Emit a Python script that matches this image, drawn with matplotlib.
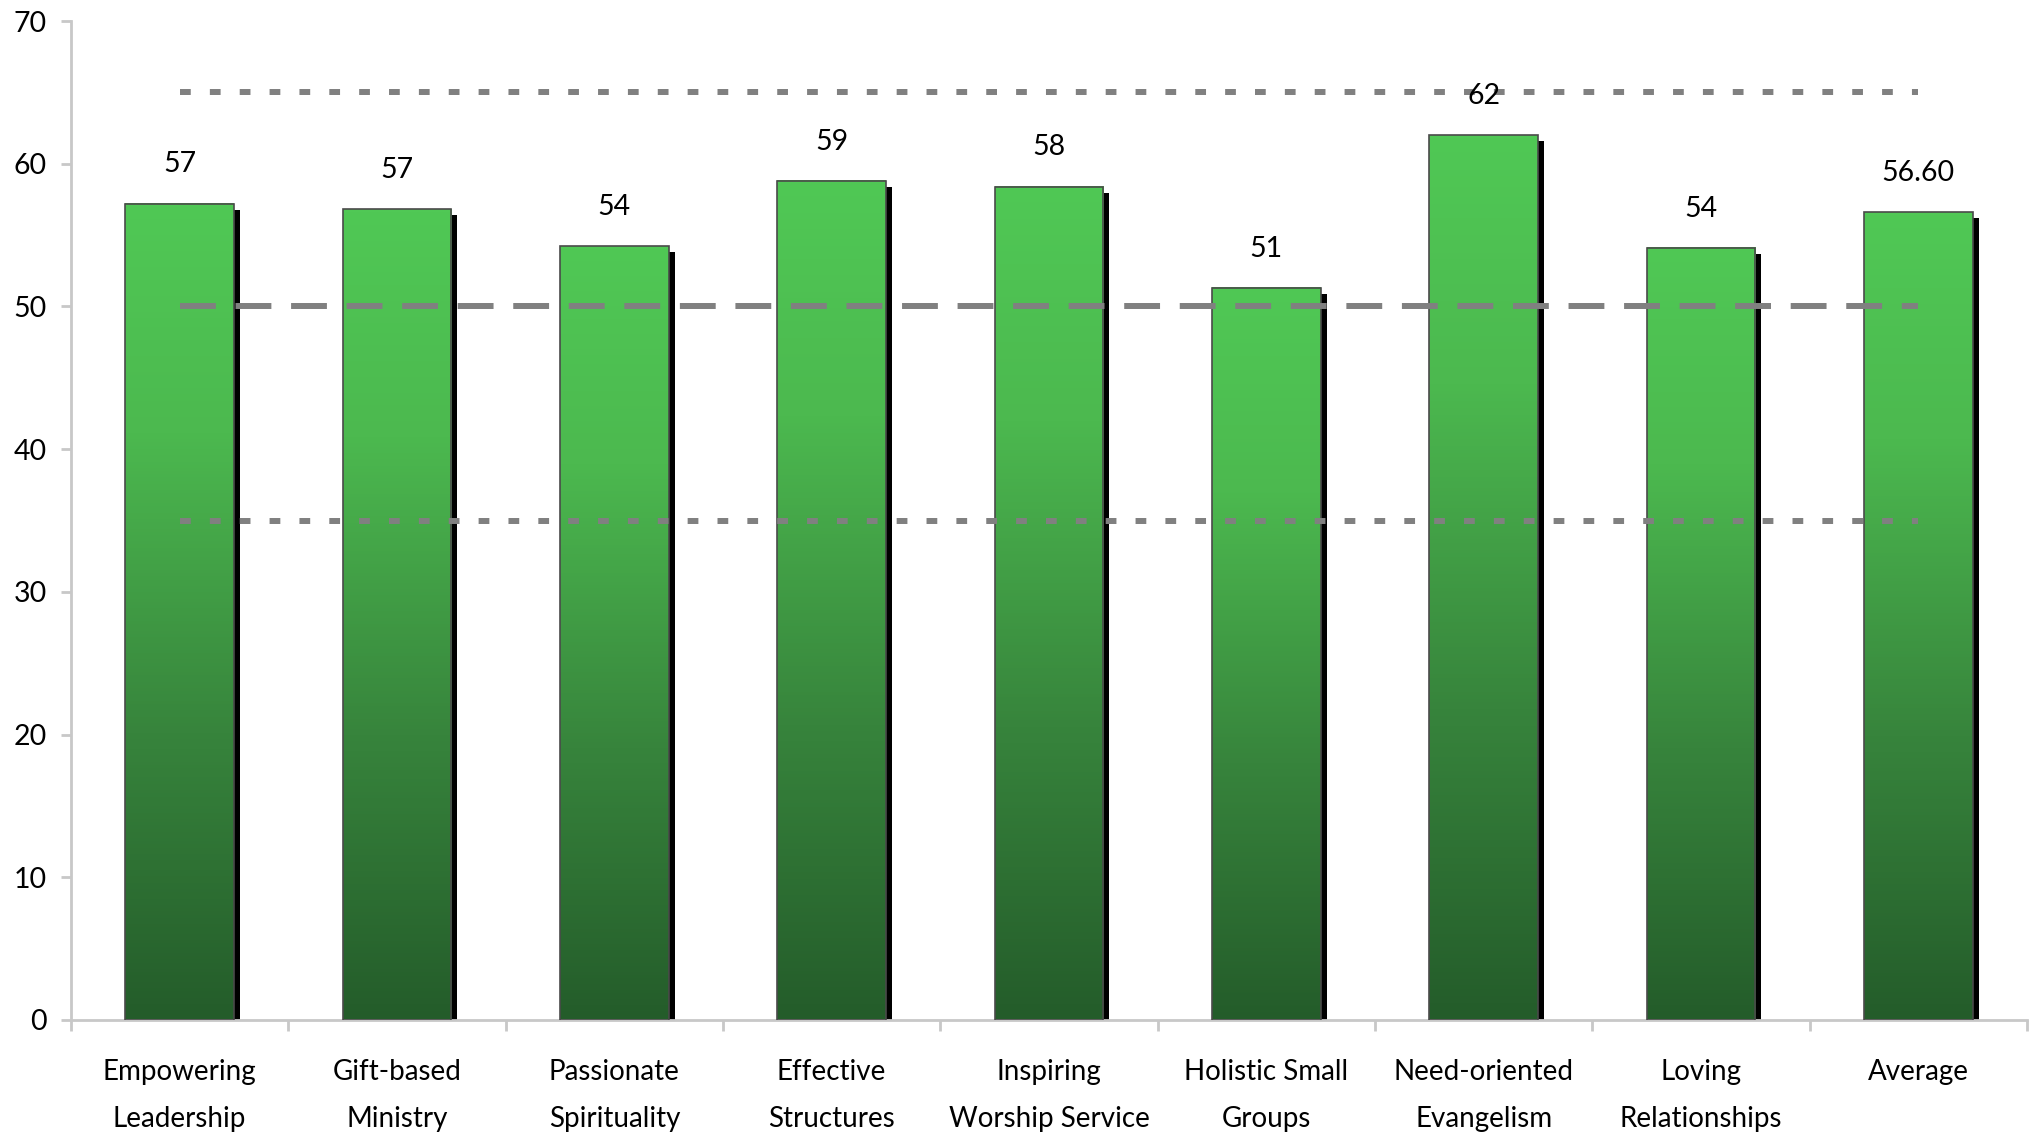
import matplotlib.pyplot as plt
import matplotlib.transforms as mtransforms
import numpy as np
from matplotlib.colors import LinearSegmentedColormap
from matplotlib.patches import Rectangle

# Date
categories = [
    "Empowering\nLeadership",
    "Gift-based\nMinistry",
    "Passionate\nSpirituality",
    "Effective\nStructures",
    "Inspiring\nWorship Service",
    "Holistic Small\nGroups",
    "Need-oriented\nEvangelism",
    "Loving\nRelationships",
    "Average",
]
values = [57.2, 56.8, 54.2, 58.8, 58.4, 51.3, 62.0, 54.1, 56.6]
value_labels = ["57", "57", "54", "59", "58", "51", "62", "54", "56.60"]
ref_dotted = [65, 35]
ref_dashed = [50]
y_ticks = [0, 10, 20, 30, 40, 50, 60, 70]

plt.rcParams["font.family"] = ["Lato", "DejaVu Sans"]

fig = plt.figure(figsize=(20.33, 11.35), dpi=100)
ax = fig.add_axes([71 / 2033, 1 - 1020 / 1135, (2027 - 71) / 2033, (1020 - 21) / 1135])

# gradient verde, deschis sus, inchis jos
green = LinearSegmentedColormap.from_list(
    "bar_green",
    [(0.0, "#245c2a"), (0.35, "#37843c"), (0.72, "#4cb94f"), (1.0, "#50c855")],
)
grad = np.linspace(0, 1, 256).reshape(-1, 1)

bar_w = 0.5
x = np.arange(len(categories))

# umbra neagra decalata spre dreapta-jos
shadow_tr = ax.transData + mtransforms.ScaledTranslation(6 / 100, -6 / 100, fig.dpi_scale_trans)
for xi, v in zip(x, values):
    ax.add_patch(Rectangle((xi - bar_w / 2, 0), bar_w, v, facecolor="black",
                           edgecolor="none", transform=shadow_tr, zorder=1))
    ax.imshow(grad, cmap=green, origin="lower", aspect="auto",
              extent=[xi - bar_w / 2, xi + bar_w / 2, 0, v], zorder=2)
    ax.add_patch(Rectangle((xi - bar_w / 2, 0), bar_w, v, facecolor="none",
                           edgecolor="#4a4a4a", linewidth=1.2, zorder=3))

for lbl, xi, v in zip(value_labels, x, values):
    ax.text(xi, v + 2.75, lbl, ha="center", va="center", fontsize=20.5, zorder=5)

# linii de referinta
for yv in ref_dotted:
    ax.plot([x[0], x[-1]], [yv, yv], color="#808080", linewidth=4.3,
            linestyle=(0, (1.8, 3.2)), solid_capstyle="butt", zorder=4)
for yv in ref_dashed:
    ax.plot([x[0], x[-1]], [yv, yv], color="#808080", linewidth=4.3,
            linestyle=(0, (6, 3.3)), solid_capstyle="butt", zorder=4)

ax.set_xlim(-0.5, len(categories) - 0.5)
ax.set_ylim(0, 70)

ax.set_yticks(y_ticks)
ax.set_yticklabels([str(t) for t in y_ticks], fontsize=20.5)
ax.set_xticks(x)
ax.set_xticklabels(categories, fontsize=20, linespacing=2.0)
ax.set_xticks(np.arange(len(categories) + 1) - 0.5, minor=True)

ax.tick_params(axis="y", length=7.5, width=2, color="#c8c8c8", pad=10)
ax.tick_params(axis="x", which="major", length=0, pad=28)
ax.tick_params(axis="x", which="minor", length=8, width=2, color="#c8c8c8")

for side in ["top", "right"]:
    ax.spines[side].set_visible(False)
for side in ["left", "bottom"]:
    ax.spines[side].set_color("#c8c8c8")
    ax.spines[side].set_linewidth(2)

ax.set_facecolor("white")

plt.savefig("out.png", dpi=100)
